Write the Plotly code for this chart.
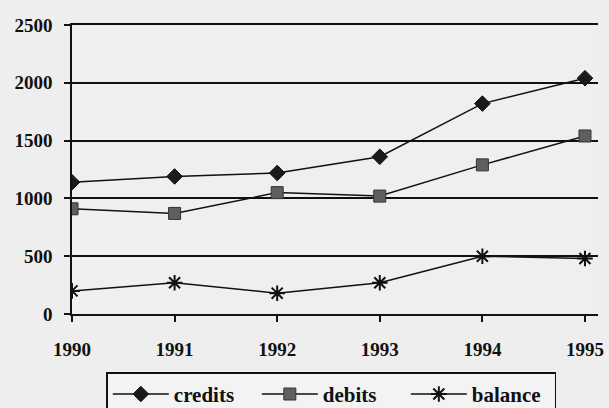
import plotly.graph_objects as go

years = [1990, 1991, 1992, 1993, 1994, 1995]
credits = [1140, 1190, 1220, 1360, 1820, 2040]
debits = [910, 870, 1050, 1020, 1290, 1540]
balance = [200, 270, 180, 270, 500, 480]
y_ticks = [0, 500, 1000, 1500, 2000, 2500]

FONT = "Liberation Serif"

fig = go.Figure()
fig.add_trace(go.Scatter(
    x=years, y=credits, name="credits", mode="lines+markers",
    line=dict(color="#111111", width=1.5),
    marker=dict(symbol="diamond", size=12, color="#1a1a1a",
                line=dict(color="#111111", width=1)),
))
fig.add_trace(go.Scatter(
    x=years, y=debits, name="debits", mode="lines+markers",
    line=dict(color="#111111", width=1.5),
    marker=dict(symbol="square", size=12, color="#5f5f5f",
                line=dict(color="#333333", width=1)),
))
fig.add_trace(go.Scatter(
    x=years, y=balance, name="balance", mode="lines+markers",
    line=dict(color="#111111", width=1.5),
    marker=dict(symbol="asterisk-open", size=13,
                line=dict(color="#222222", width=2)),
))

fig.update_layout(
    width=609, height=408,
    margin=dict(l=72, r=11, t=25, b=94, autoexpand=False),
    paper_bgcolor="#eeeeee",
    plot_bgcolor="#efefef",
    font=dict(family=FONT, size=19, color="#111111"),
    showlegend=True,
    legend=dict(
        orientation="h", x=0.493, xanchor="center", y=-0.202, yanchor="top",
        bgcolor="#f3f3f3", bordercolor="#111111", borderwidth=1.5,
        font=dict(family=FONT, size=21, color="#111111", weight="bold"),
        itemwidth=56, entrywidth=78, tracegroupgap=0,
    ),
    xaxis=dict(
        range=[1990, 1995.127], tickmode="array", tickvals=years,
        ticktext=[str(y) for y in years], automargin=False,
        showgrid=False, zeroline=False, showline=True, mirror=True,
        linecolor="#111111", linewidth=1.5,
        ticks="outside", ticklen=6, tickcolor="#111111", tickwidth=1.5,
        ticklabelstandoff=11,
        tickfont=dict(family=FONT, size=19, color="#111111", weight="bold"),
    ),
    yaxis=dict(
        range=[0, 2500], tickmode="array", tickvals=y_ticks, automargin=False,
        showgrid=True, gridcolor="#111111", gridwidth=1.5,
        zeroline=False, showline=True, linecolor="#111111", linewidth=1.5,
        ticks="outside", ticklen=6, tickcolor="#111111", tickwidth=1.5,
        ticklabelstandoff=8,
        tickfont=dict(family=FONT, size=19, color="#111111", weight="bold"),
    ),
)

fig.write_html(
    "out.html",
    config={"displayModeBar": False},
    post_script="document.body.style.margin='0';document.body.style.overflow='hidden';",
)
